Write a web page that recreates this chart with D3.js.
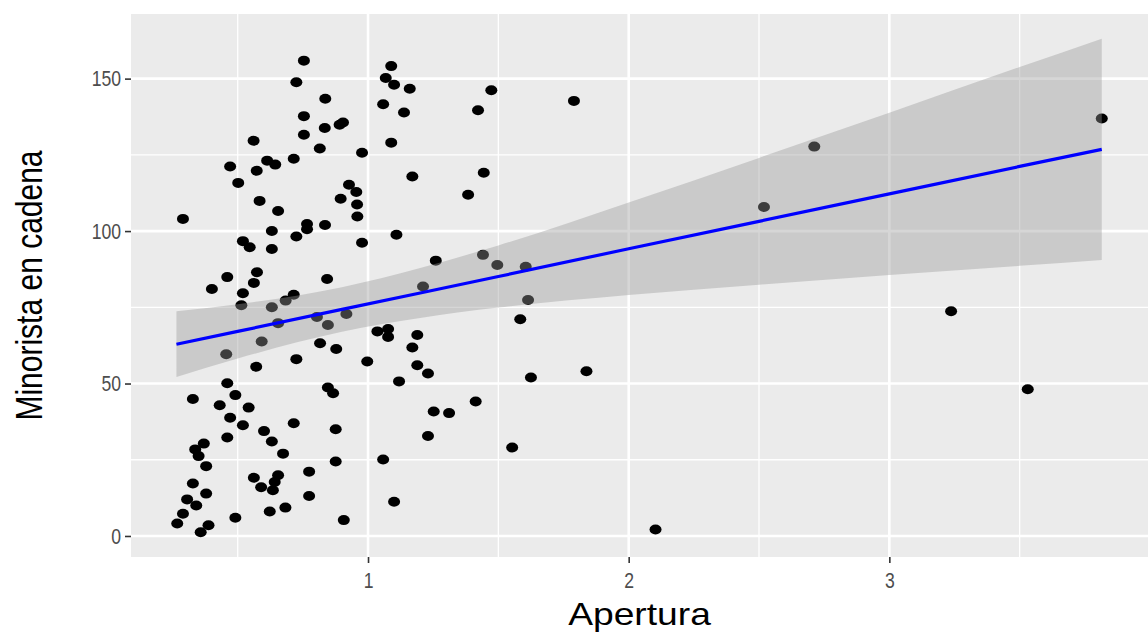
<!DOCTYPE html>
<html>
<head>
<meta charset="utf-8">
<script src="https://cdn.jsdelivr.net/npm/d3@7"></script>
<style>
  body { margin: 0; background: #fff; }
  text { font-family: "Liberation Sans", Arial, sans-serif; }
</style>
</head>
<body>
<div id="chart"></div>
<script>
// Apertura (x) vs Minorista en cadena (y)
var apertura = [
  0.754, 0.725, 0.836, 0.754, 0.834, 0.754, 0.561, 0.815, 0.715, 0.613,
  0.644, 0.471, 0.573, 0.502, 0.584, 0.655, 0.290, 0.766, 0.766, 0.835,
  0.631, 0.725, 0.520, 0.546, 0.631, 0.574, 0.460, 0.562, 0.843, 0.401,
  0.520, 0.715, 0.684, 0.514, 0.631, 0.655, 0.804, 0.846, 0.592, 0.456,
  0.816, 0.725, 0.571, 0.460, 0.846, 0.491, 0.328, 0.431, 0.542, 0.471,
  0.520, 0.715, 0.601, 0.631, 0.460, 0.370, 0.337, 0.350, 0.674, 0.379,
  0.774, 0.562, 0.655, 0.642, 0.590, 0.635, 0.328, 0.379, 0.774, 0.306,
  0.341, 0.683, 0.623, 0.290, 0.491, 0.268, 0.388, 0.358, 1.089, 1.068,
  1.100, 1.160, 1.473, 1.058, 1.138, 1.422, 0.904, 0.891, 1.089, 0.977,
  1.170, 1.444, 0.927, 0.955, 1.384, 0.895, 0.958, 0.959, 1.109, 0.977,
  1.260, 1.441, 1.496, 1.211, 0.917, 1.584, 1.036, 1.077, 1.077, 1.189,
  0.878, 1.170, 0.997, 1.189, 1.230, 1.119, 0.866, 1.413, 1.252, 1.311,
  0.876, 1.230, 1.553, 0.876, 1.058, 1.100, 0.907, 1.790, 1.605, 1.614,
  1.625, 1.838, 2.103, 2.712, 2.519, 3.815, 3.237, 3.531
];
var minorista = [
  155.9, 148.8, 143.4, 137.7, 133.8, 131.6, 129.6, 127.1, 123.7, 123.1,
  121.8, 121.2, 119.8, 115.8, 109.9, 106.6, 104.0, 102.3, 100.6, 102.0,
  100.0, 98.2, 96.7, 94.7, 94.1, 86.5, 84.9, 83.0, 84.3, 81.0,
  79.6, 79.1, 77.2, 75.7, 75.0, 69.8, 71.8, 69.2, 63.8, 59.6,
  63.2, 58.0, 55.5, 50.1, 48.7, 46.2, 44.9, 42.9, 42.1, 38.8,
  36.3, 37.0, 34.4, 31.0, 32.3, 30.3, 28.4, 26.2, 27.0, 22.9,
  21.1, 19.1, 19.9, 17.7, 16.0, 15.0, 17.2, 13.9, 13.1, 12.0,
  10.0, 9.3, 8.0, 7.3, 6.0, 4.1, 3.5, 1.2, 154.1, 150.2,
  148.0, 146.7, 146.2, 141.6, 138.9, 139.6, 135.6, 134.9, 129.0, 125.7,
  117.9, 119.1, 115.2, 112.8, 111.9, 110.6, 108.7, 104.8, 98.8, 96.2,
  90.3, 92.2, 88.9, 81.8, 72.8, 71.1, 67.1, 67.9, 65.3, 65.9,
  61.3, 61.8, 57.2, 56.0, 53.3, 50.7, 46.8, 44.1, 40.8, 40.3,
  35.0, 32.8, 29.0, 24.4, 25.1, 11.2, 5.2, 142.7, 88.3, 77.4,
  52.0, 54.0, 2.1, 127.7, 107.9, 136.9, 73.7, 48.1
];

// fitted line and its confidence band
var fitX  = [0.265, 0.5, 0.9, 1.2, 1.5, 2.0, 2.5, 3.0, 3.5, 3.815];
var fitY  = [62.9, 67.1, 74.3, 79.7, 85.1, 94.2, 103.2, 112.2, 121.2, 126.8];
var bandLo = [52.1, 58.2, 67.0, 71.5, 74.9, 79.0, 82.4, 85.6, 88.6, 90.5];
var bandHi = [73.7, 76.0, 81.6, 87.9, 95.3, 109.4, 124.0, 138.8, 153.8, 163.1];

var xTicks = [1, 2, 3];
var yTicks = [0, 50, 100, 150];
var xMinor = [0.5, 1.5, 2.5, 3.5];
var yMinor = [25, 75, 125];

var W = 1148, H = 633;
var panel = { left: 131, right: 1148, top: 14, bottom: 557 };

var svg = d3.select("#chart").append("svg")
  .attr("width", W).attr("height", H);

// ggplot style 5% expansion
var xr = d3.extent(apertura), xs = (xr[1] - xr[0]) * 0.05;
var yAll = minorista.concat(bandHi);
var yr = d3.extent(yAll), ys = (yr[1] - yr[0]) * 0.05;

var x = d3.scaleLinear().domain([xr[0] - xs, xr[1] + xs]).range([panel.left, panel.right]);
var y = d3.scaleLinear().domain([yr[0] - ys, yr[1] + ys]).range([panel.bottom, panel.top]);

svg.append("rect")
  .attr("x", panel.left).attr("y", panel.top)
  .attr("width", panel.right - panel.left).attr("height", panel.bottom - panel.top)
  .attr("fill", "#EBEBEB");

var grid = svg.append("g");
grid.selectAll(".vmin").data(xMinor).enter().append("line")
  .attr("x1", x).attr("x2", x).attr("y1", panel.top).attr("y2", panel.bottom)
  .attr("stroke", "#fff").attr("stroke-width", 1.3);
grid.selectAll(".hmin").data(yMinor).enter().append("line")
  .attr("y1", y).attr("y2", y).attr("x1", panel.left).attr("x2", panel.right)
  .attr("stroke", "#fff").attr("stroke-width", 1.3);
grid.selectAll(".vmaj").data(xTicks).enter().append("line")
  .attr("x1", x).attr("x2", x).attr("y1", panel.top).attr("y2", panel.bottom)
  .attr("stroke", "#fff").attr("stroke-width", 2.6);
grid.selectAll(".hmaj").data(yTicks).enter().append("line")
  .attr("y1", y).attr("y2", y).attr("x1", panel.left).attr("x2", panel.right)
  .attr("stroke", "#fff").attr("stroke-width", 2.6);

// points
svg.append("g").selectAll("ellipse")
  .data(apertura.map(function(d, i) { return [d, minorista[i]]; }))
  .enter().append("ellipse")
  .attr("cx", function(d) { return x(d[0]); })
  .attr("cy", function(d) { return y(d[1]); })
  .attr("rx", 6).attr("ry", 5)
  .attr("fill", "#000");

// ribbon over the points, like geom_smooth
var band = fitX.map(function(d, i) { return { x: d, lo: bandLo[i], hi: bandHi[i], y: fitY[i] }; });
svg.append("path")
  .datum(band)
  .attr("d", d3.area().x(function(d) { return x(d.x); })
    .y0(function(d) { return y(d.lo); }).y1(function(d) { return y(d.hi); })
    .curve(d3.curveMonotoneX))
  .attr("fill", "#999999").attr("fill-opacity", 0.4);

svg.append("path")
  .datum(band)
  .attr("d", d3.line().x(function(d) { return x(d.x); }).y(function(d) { return y(d.y); }))
  .attr("fill", "none").attr("stroke", "#0000FF").attr("stroke-width", 3.2);

// axes
var xAxis = svg.append("g")
  .attr("transform", "translate(0," + panel.bottom + ")")
  .call(d3.axisBottom(x).tickValues(xTicks).tickSize(6).tickPadding(9).tickFormat(d3.format("d")));
var yAxis = svg.append("g")
  .attr("transform", "translate(" + panel.left + ",0)")
  .call(d3.axisLeft(y).tickValues(yTicks).tickSize(6).tickFormat(d3.format("d")));
[xAxis, yAxis].forEach(function(a) {
  a.select(".domain").remove();
  a.selectAll(".tick line").attr("stroke", "#333").attr("stroke-width", 1.6);
  a.selectAll(".tick text").attr("fill", "#4D4D4D").style("font-size", "22px")
    .style("font-family", "'Liberation Sans', Arial, sans-serif");
});
// tick labels are narrow in the picture
xAxis.selectAll(".tick text").attr("transform", "scale(0.8,1)");
yAxis.selectAll(".tick text").attr("x", 0)
  .attr("transform", "translate(-10,0) scale(0.8,1)");

// titles
svg.append("text")
  .attr("transform", "translate(" + ((panel.left + panel.right) / 2) + ",625) scale(1.2,1)")
  .attr("text-anchor", "middle").style("font-size", "31px").attr("fill", "#000")
  .text("Apertura");

svg.append("text")
  .attr("transform", "translate(42," + ((panel.top + panel.bottom) / 2) + ") scale(1.2,1) rotate(-90)")
  .attr("text-anchor", "middle").style("font-size", "30px").attr("fill", "#000")
  .text("Minorista en cadena");
</script>
</body>
</html>
